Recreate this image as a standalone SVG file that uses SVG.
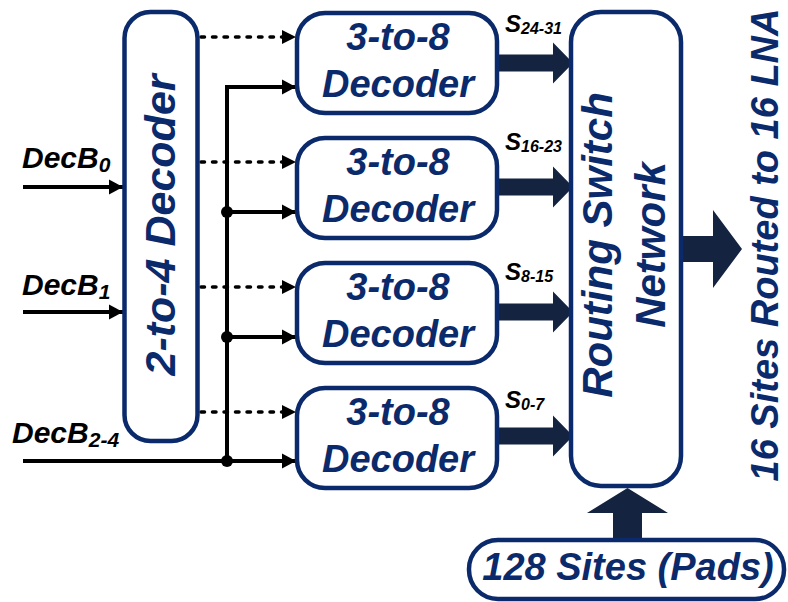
<svg xmlns="http://www.w3.org/2000/svg" width="788" height="602" viewBox="0 0 788 602">
<defs>
<style>
.box{fill:#fff;stroke:#0b2a6b;stroke-width:4.5}
.t{font-family:"Liberation Sans",Arial,sans-serif;font-weight:bold;font-style:italic;fill:#0b2a6b}
.lbl{font-family:"Liberation Sans",Arial,sans-serif;font-weight:bold;font-style:italic;fill:#000}
.w{fill:none;stroke:#000;stroke-width:4}
.d{fill:none;stroke:#000;stroke-width:3.5;stroke-dasharray:3.5 8;stroke-linecap:round}
.fat{fill:#14233f}
</style>
<marker id="ah" markerUnits="userSpaceOnUse" markerWidth="15" markerHeight="16" refX="14" refY="8" orient="auto">
<path d="M0,0.5 L14,8 L0,15.5 Z" fill="#000"/>
</marker>
</defs>
<g id="connectors">
<path class="w" d="M23,187 H123" marker-end="url(#ah)"/>
<path class="w" d="M23,312 H123" marker-end="url(#ah)"/>
<path class="w" d="M23,461 H296" marker-end="url(#ah)"/>
<path class="w" d="M227,461 V87 H296" marker-end="url(#ah)"/>
<path class="w" d="M227,212 H296" marker-end="url(#ah)"/>
<path class="w" d="M227,337 H296" marker-end="url(#ah)"/>
<circle cx="227" cy="212" r="6" fill="#000"/>
<circle cx="227" cy="337" r="6" fill="#000"/>
<circle cx="227" cy="461" r="6" fill="#000"/>
<path class="d" d="M201,37 H290"/>
<path class="d" d="M201,162 H290"/>
<path class="d" d="M201,287 H290"/>
<path class="d" d="M201,412 H290"/>
<path d="M282,30 L296,37 L282,44 Z M282,155 L296,162 L282,169 Z M282,280 L296,287 L282,294 Z M282,405 L296,412 L282,419 Z" fill="#000"/>
<polygon class="fat" points="499,54.5 553,54.5 553,42.5 573,63 553,83.5 553,71.5 499,71.5"/>
<polygon class="fat" points="499,178.5 553,178.5 553,166.5 573,187 553,207.5 553,195.5 499,195.5"/>
<polygon class="fat" points="499,303.5 553,303.5 553,291.5 573,312 553,332.5 553,320.5 499,320.5"/>
<polygon class="fat" points="499,427.5 553,427.5 553,415.5 573,436 553,456.5 553,444.5 499,444.5"/>
<polygon class="fat" points="683,236 713,236 713,210 742,249 713,288 713,262 683,262"/>
<polygon class="fat" points="613,539 613,513 587,513 627.5,488 668,513 642,513 642,539"/>
<text class="lbl" x="505" y="32" font-size="24">S<tspan font-size="16" dy="2">24-31</tspan></text>
<text class="lbl" x="505" y="150" font-size="24">S<tspan font-size="16" dy="2">16-23</tspan></text>
<text class="lbl" x="505" y="280" font-size="24">S<tspan font-size="16" dy="2">8-15</tspan></text>
<text class="lbl" x="505" y="408" font-size="24">S<tspan font-size="16" dy="2">0-7</tspan></text>
</g>
<g id="inputs">
<text class="lbl" x="22" y="168" font-size="30">DecB<tspan font-size="21" dy="4">0</tspan></text>
<text class="lbl" x="22" y="295" font-size="30">DecB<tspan font-size="21" dy="4">1</tspan></text>
<text class="lbl" x="12" y="443" font-size="30">DecB<tspan font-size="21" dy="4">2-4</tspan></text>
</g>
<g id="dec24">
<rect class="box" x="124.5" y="12" width="73" height="429" rx="26"/>
<text class="t" font-size="43" text-anchor="middle" transform="translate(175,225) rotate(-90)">2-to-4 Decoder</text>
</g>
<g id="dec38a">
<rect class="box" x="297" y="13" width="200" height="100" rx="28"/>
<text class="t" font-size="38" text-anchor="middle" x="398" y="50">3-to-8</text>
<text class="t" font-size="38" text-anchor="middle" x="398" y="97">Decoder</text>
</g>
<g id="dec38b">
<rect class="box" x="297" y="138" width="200" height="100" rx="28"/>
<text class="t" font-size="38" text-anchor="middle" x="398" y="175">3-to-8</text>
<text class="t" font-size="38" text-anchor="middle" x="398" y="222">Decoder</text>
</g>
<g id="dec38c">
<rect class="box" x="297" y="263" width="200" height="100" rx="28"/>
<text class="t" font-size="38" text-anchor="middle" x="398" y="300">3-to-8</text>
<text class="t" font-size="38" text-anchor="middle" x="398" y="347">Decoder</text>
</g>
<g id="dec38d">
<rect class="box" x="297" y="388" width="200" height="100" rx="28"/>
<text class="t" font-size="38" text-anchor="middle" x="398" y="425">3-to-8</text>
<text class="t" font-size="38" text-anchor="middle" x="398" y="472">Decoder</text>
</g>
<g id="routing">
<rect class="box" x="571" y="12" width="110" height="474" rx="30"/>
<text class="t" font-size="42" text-anchor="middle" transform="translate(612,245) rotate(-90)">Routing Switch</text>
<text class="t" font-size="42" text-anchor="middle" transform="translate(665,245) rotate(-90)">Network</text>
</g>
<g id="output">
<text class="t" font-size="38" text-anchor="middle" transform="translate(778,245) rotate(-90)">16 Sites Routed to 16 LNA</text>
</g>
<g id="sites">
<rect class="box" x="469" y="540" width="315" height="59" rx="29"/>
<text class="t" font-size="38" text-anchor="middle" x="628" y="580">128 Sites (Pads)</text>
</g>
</svg>
